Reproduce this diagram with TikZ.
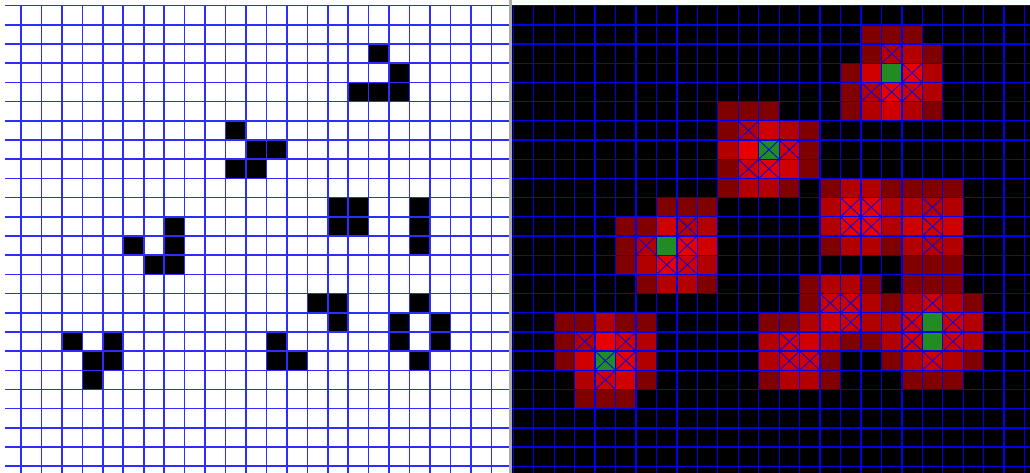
\documentclass[tikz,border=0pt]{standalone}
\definecolor{cD}{RGB}{128,0,0}
\definecolor{cM}{RGB}{178,0,0}
\definecolor{cB}{RGB}{206,0,0}
\definecolor{cV}{RGB}{230,0,0}
\definecolor{grn}{RGB}{34,139,34}
\definecolor{lblue}{RGB}{45,45,255}
\definecolor{rblue}{RGB}{0,0,240}
\definecolor{sepgray}{RGB}{170,170,170}
\tikzset{
  lgrid/.style={draw=lblue,line width=1.6pt},
  rgrid/.style={draw=rblue,line width=1.3pt},
  xmark/.style={draw=rblue,line width=0.8pt},
}
\begin{document}
\begin{tikzpicture}[x=1pt,y=-1pt]
\useasboundingbox (0,0) rectangle (1030,473);
\fill[white] (0,0) rectangle (1030,473);
\def\cw{20.45}\def\ch{19.19}\def\gy{5.7}\def\lx{0.55}\def\rx{513.3}
\def\alive{11/6,12/7,13/7,11/8,12/8,18/2,19/3,17/4,18/4,19/4,16/10,17/10,16/11,17/11,20/10,20/11,20/12,8/11,6/12,8/12,7/13,8/13,15/15,16/15,16/16,20/15,19/16,21/16,19/17,21/17,20/18,13/17,13/18,14/18,3/17,5/17,4/18,5/18,4/19}
% neighbourhood sums (3x3, cell included)
\foreach \a/\b in \alive {
  \foreach \dx in {-1,0,1} {
    \foreach \dy in {-1,0,1} {
      \pgfmathtruncatemacro\xx{\a+\dx}
      \pgfmathtruncatemacro\yy{\b+\dy}
      \ifcsname cnt-\xx-\yy\endcsname
        \expandafter\xdef\csname cnt-\xx-\yy\endcsname{\the\numexpr\csname cnt-\xx-\yy\endcsname+1\relax}
      \else
        \expandafter\xdef\csname cnt-\xx-\yy\endcsname{1}
      \fi
    }
  }
}
% left panel
\foreach \a/\b in \alive {
  \fill[black] (\lx+\a*\cw,\gy+\b*\ch) rectangle ++(\cw,\ch);
}
\foreach \k in {0,...,24} {
  \draw[lgrid] (5,\gy+\k*\ch) -- (509.5,\gy+\k*\ch);
}
\foreach \k in {1,...,24} {
  \draw[lgrid] (\lx+\k*\cw,\gy) -- (\lx+\k*\cw,473);
}
% right panel
\fill[black] (512.3,\gy) rectangle (1030,473);
\foreach \i in {0,...,24} {
  \foreach \j in {0,...,23} {
    \ifcsname cnt-\i-\j\endcsname
      \edef\vv{\csname cnt-\i-\j\endcsname}
      \ifnum\vv>4\relax
        \def\col{grn}
      \else
        \ifcase\vv\relax\def\col{black}\or\def\col{cD}\or\def\col{cM}\or\def\col{cB}\or\def\col{cV}\fi
      \fi
      \fill[\col] (\rx+\i*\cw,\gy+\j*\ch) rectangle ++(\cw,\ch);
    \fi
  }
}
\foreach \k in {0,...,24} {
  \draw[rgrid] (512.3,\gy+\k*\ch) -- (1030,\gy+\k*\ch);
}
\foreach \k in {0,...,25} {
  \draw[rgrid] (\rx+\k*\cw,\gy) -- (\rx+\k*\cw,473);
}
\foreach \a/\b in \alive {
  \draw[xmark] (\rx+\a*\cw,\gy+\b*\ch) -- ++(\cw,\ch)
               (\rx+\a*\cw+\cw,\gy+\b*\ch) -- ++(-\cw,\ch);
}
% separator
\fill[sepgray] (509.3,0) rectangle (512.3,473);
\end{tikzpicture}
\end{document}
